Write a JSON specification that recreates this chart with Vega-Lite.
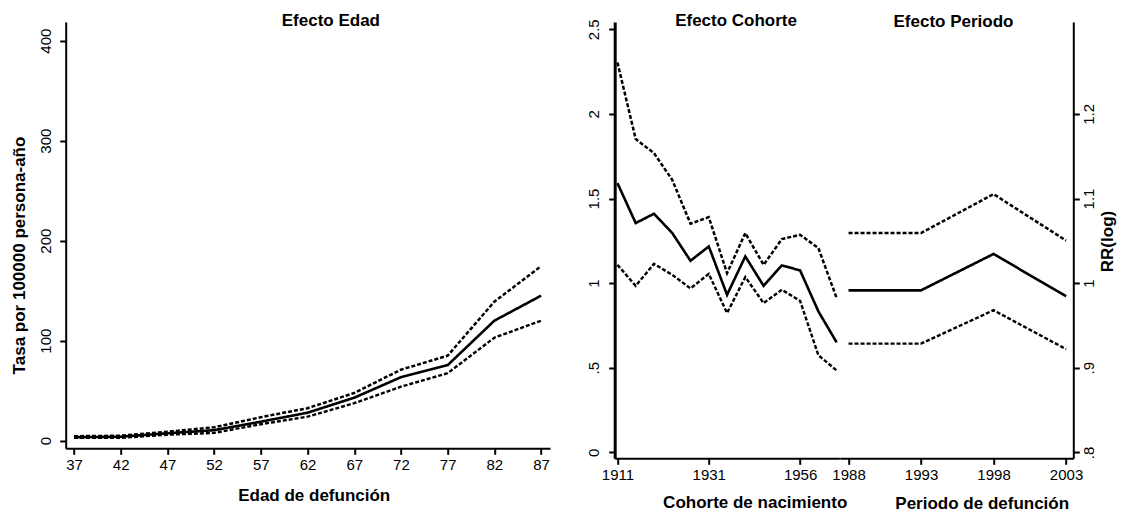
{
  "$schema": "https://vega.github.io/schema/vega-lite/v6.json",
  "background": "white",
  "autosize": {"type": "none"},
  "padding": {"left": 65.7, "top": 22, "right": 1056.3, "bottom": 492},
  "config": {
    "font": "Liberation Sans",
    "view": {"stroke": null},
    "axis": {
      "grid": false,
      "domainColor": "black",
      "domainWidth": 2,
      "tickColor": "black",
      "tickWidth": 2,
      "tickSize": 6,
      "labelColor": "black",
      "labelFont": "Liberation Sans",
      "labelFontSize": 15,
      "titleFont": "Liberation Sans",
      "titleFontSize": 17,
      "titleFontWeight": "bold",
      "titleColor": "black"
    },
    "title": {"fontSize": 17, "fontWeight": "bold", "color": "black", "font": "Liberation Sans"}
  },
  "datasets": {
    "edad": [
      {"edad": 37, "serie": "Estimación", "valor": 3.5},
      {"edad": 42, "serie": "Estimación", "valor": 4},
      {"edad": 47, "serie": "Estimación", "valor": 7.4},
      {"edad": 52, "serie": "Estimación", "valor": 10.5},
      {"edad": 57, "serie": "Estimación", "valor": 19},
      {"edad": 62, "serie": "Estimación", "valor": 28},
      {"edad": 67, "serie": "Estimación", "valor": 43},
      {"edad": 72, "serie": "Estimación", "valor": 63.5},
      {"edad": 77, "serie": "Estimación", "valor": 75.5},
      {"edad": 82, "serie": "Estimación", "valor": 120},
      {"edad": 87, "serie": "Estimación", "valor": 145},
      {"edad": 37, "serie": "Superior", "valor": 4.5},
      {"edad": 42, "serie": "Superior", "valor": 5},
      {"edad": 47, "serie": "Superior", "valor": 9},
      {"edad": 52, "serie": "Superior", "valor": 13.4},
      {"edad": 57, "serie": "Superior", "valor": 23.5},
      {"edad": 62, "serie": "Superior", "valor": 32.5},
      {"edad": 67, "serie": "Superior", "valor": 47.7},
      {"edad": 72, "serie": "Superior", "valor": 71},
      {"edad": 77, "serie": "Superior", "valor": 85},
      {"edad": 82, "serie": "Superior", "valor": 139},
      {"edad": 87, "serie": "Superior", "valor": 174.5},
      {"edad": 37, "serie": "Inferior", "valor": 2.8},
      {"edad": 42, "serie": "Inferior", "valor": 2.8},
      {"edad": 47, "serie": "Inferior", "valor": 6},
      {"edad": 52, "serie": "Inferior", "valor": 7.8},
      {"edad": 57, "serie": "Inferior", "valor": 16.5},
      {"edad": 62, "serie": "Inferior", "valor": 24},
      {"edad": 67, "serie": "Inferior", "valor": 37.5},
      {"edad": 72, "serie": "Inferior", "valor": 54},
      {"edad": 77, "serie": "Inferior", "valor": 67.5},
      {"edad": 82, "serie": "Inferior", "valor": 103},
      {"edad": 87, "serie": "Inferior", "valor": 120}
    ],
    "cohorte": [
      {"cohorte": 1911, "serie": "Estimación", "valor": 1.591},
      {"cohorte": 1915, "serie": "Estimación", "valor": 1.355},
      {"cohorte": 1919, "serie": "Estimación", "valor": 1.41},
      {"cohorte": 1923, "serie": "Estimación", "valor": 1.296},
      {"cohorte": 1927, "serie": "Estimación", "valor": 1.132},
      {"cohorte": 1931, "serie": "Estimación", "valor": 1.217},
      {"cohorte": 1936, "serie": "Estimación", "valor": 0.931},
      {"cohorte": 1941, "serie": "Estimación", "valor": 1.158},
      {"cohorte": 1946, "serie": "Estimación", "valor": 0.984},
      {"cohorte": 1951, "serie": "Estimación", "valor": 1.105},
      {"cohorte": 1956, "serie": "Estimación", "valor": 1.075},
      {"cohorte": 1961, "serie": "Estimación", "valor": 0.833},
      {"cohorte": 1966, "serie": "Estimación", "valor": 0.65},
      {"cohorte": 1911, "serie": "Superior", "valor": 2.304},
      {"cohorte": 1915, "serie": "Superior", "valor": 1.851},
      {"cohorte": 1919, "serie": "Superior", "valor": 1.768},
      {"cohorte": 1923, "serie": "Superior", "valor": 1.61},
      {"cohorte": 1927, "serie": "Superior", "valor": 1.351},
      {"cohorte": 1931, "serie": "Superior", "valor": 1.39},
      {"cohorte": 1936, "serie": "Superior", "valor": 1.059},
      {"cohorte": 1941, "serie": "Superior", "valor": 1.296},
      {"cohorte": 1946, "serie": "Superior", "valor": 1.108},
      {"cohorte": 1951, "serie": "Superior", "valor": 1.26},
      {"cohorte": 1956, "serie": "Superior", "valor": 1.286},
      {"cohorte": 1961, "serie": "Superior", "valor": 1.207},
      {"cohorte": 1966, "serie": "Superior", "valor": 0.912},
      {"cohorte": 1911, "serie": "Inferior", "valor": 1.108},
      {"cohorte": 1915, "serie": "Inferior", "valor": 0.984},
      {"cohorte": 1919, "serie": "Inferior", "valor": 1.114},
      {"cohorte": 1923, "serie": "Inferior", "valor": 1.049},
      {"cohorte": 1927, "serie": "Inferior", "valor": 0.969},
      {"cohorte": 1931, "serie": "Inferior", "valor": 1.055},
      {"cohorte": 1936, "serie": "Inferior", "valor": 0.823},
      {"cohorte": 1941, "serie": "Inferior", "valor": 1.036},
      {"cohorte": 1946, "serie": "Inferior", "valor": 0.882},
      {"cohorte": 1951, "serie": "Inferior", "valor": 0.961},
      {"cohorte": 1956, "serie": "Inferior", "valor": 0.895},
      {"cohorte": 1961, "serie": "Inferior", "valor": 0.574},
      {"cohorte": 1966, "serie": "Inferior", "valor": 0.484}
    ],
    "periodo": [
      {"periodo": 1988, "serie": "Estimación", "valor": 0.9915},
      {"periodo": 1993, "serie": "Estimación", "valor": 0.9915},
      {"periodo": 1998, "serie": "Estimación", "valor": 1.0345},
      {"periodo": 2003, "serie": "Estimación", "valor": 0.9845},
      {"periodo": 1988, "serie": "Superior", "valor": 1.0592},
      {"periodo": 1993, "serie": "Superior", "valor": 1.0592},
      {"periodo": 1998, "serie": "Superior", "valor": 1.1052},
      {"periodo": 2003, "serie": "Superior", "valor": 1.0503},
      {"periodo": 1988, "serie": "Inferior", "valor": 0.9285},
      {"periodo": 1993, "serie": "Inferior", "valor": 0.9285},
      {"periodo": 1998, "serie": "Inferior", "valor": 0.968},
      {"periodo": 2003, "serie": "Inferior", "valor": 0.922}
    ]
  },
  "bounds": "flush",
  "spacing": 64,
  "hconcat": [
    {
      "width": 484.3,
      "height": 426.3,
      "title": {"text": "Efecto Edad", "frame": "group", "offset": 5.5, "baseline": "alphabetic", "dx": 23, "dy": 26},
      "data": {"name": "edad"},
      "mark": {"type": "line", "color": "black"},
      "encoding": {
        "x": {
          "field": "edad", "type": "quantitative",
          "scale": {"domain": [36.11, 87.96], "nice": false, "zero": false},
          "axis": {"values": [37, 42, 47, 52, 57, 62, 67, 72, 77, 82, 87], "title": "Edad de defunción", "labelFlush": false, "titleX": 248, "titleY": 52, "titleBaseline": "alphabetic", "labelPadding": 3}
        },
        "y": {
          "field": "valor", "type": "quantitative",
          "scale": {"domain": [-7.6, 418.7], "nice": false, "zero": false},
          "axis": {"values": [0, 100, 200, 300, 400], "title": "Tasa por 100000 persona-año", "labelAngle": -90, "labelAlign": "center", "labelBaseline": "bottom", "labelPadding": 6, "titleAngle": -90, "titleAlign": "center", "titleBaseline": "alphabetic", "titleX": -41, "titleY": 233}
        },
        "strokeDash": {"field": "serie", "type": "nominal", "scale": {"domain": ["Estimación", "Superior", "Inferior"], "range": [[1, 0], [4, 2], [4, 2]]}, "legend": null},
        "strokeWidth": {"field": "serie", "type": "nominal", "scale": {"domain": ["Estimación", "Superior", "Inferior"], "range": [2.6, 2.4, 2.4]}, "legend": null}
      }
    },
    {
      "bounds": "flush",
      "spacing": 0,
      "hconcat": [
        {
          "width": 224.7,
          "height": 436.3,
          "title": {"text": "Efecto Cohorte", "frame": "group", "offset": -4, "baseline": "alphabetic", "dx": 9, "dy": 20},
          "data": {"name": "cohorte"},
          "mark": {"type": "line", "color": "black"},
          "encoding": {
            "x": {
              "field": "cohorte", "type": "ordinal",
              "scale": {"padding": 0.15},
              "axis": {"values": [1911, 1931, 1956], "labelAngle": 0, "title": "Cohorte de nacimiento", "titleX": 140, "titleY": 49, "titleBaseline": "alphabetic", "labelPadding": 3}
            },
            "y": {
              "field": "valor", "type": "quantitative",
              "scale": {"domain": [-0.035, 2.543], "nice": false, "zero": false},
              "axis": {"values": [0, 0.5, 1, 1.5, 2, 2.5], "format": ".1~f", "labelExpr": "replace(datum.label, '0.', '.')", "labelAngle": -90, "labelAlign": "center", "labelBaseline": "bottom", "labelPadding": 7, "title": null, "domainWidth": 3}
            },
            "strokeDash": {"field": "serie", "type": "nominal", "scale": {"domain": ["Estimación", "Superior", "Inferior"], "range": [[1, 0], [5, 3], [6, 2, 2, 2]]}, "legend": null},
            "strokeWidth": {"field": "serie", "type": "nominal", "scale": {"domain": ["Estimación", "Superior", "Inferior"], "range": [2.6, 1.8, 2]}, "legend": null}
          }
        },
        {
          "width": 233.6,
          "height": 436.3,
          "title": {"text": "Efecto Periodo", "frame": "group", "offset": -4, "baseline": "alphabetic", "dx": -3, "dy": 18},
          "data": {"name": "periodo"},
          "mark": {"type": "line", "color": "black"},
          "encoding": {
            "x": {
              "field": "periodo", "type": "quantitative",
              "scale": {"domain": [1987.39, 2003.5], "nice": false, "zero": false},
              "axis": {"values": [1988, 1993, 1998, 2003], "format": "d", "labelFlush": false, "title": "Periodo de defunción", "titleX": 142, "titleY": 50, "titleBaseline": "alphabetic", "labelPadding": 3}
            },
            "y": {
              "field": "valor", "type": "quantitative",
              "scale": {"domain": [0.793, 1.3086], "nice": false, "zero": false},
              "axis": {"orient": "right", "values": [0.8, 0.9, 1, 1.1, 1.2], "format": ".1~f", "labelExpr": "replace(datum.label, '0.', '.')", "labelAngle": -90, "labelAlign": "center", "labelBaseline": "top", "labelPadding": 2, "title": "RR(log)", "titleAngle": -90, "titleAlign": "center", "titleBaseline": "alphabetic", "titleX": 39, "titleY": 219}
            },
            "strokeDash": {"field": "serie", "type": "nominal", "scale": {"domain": ["Estimación", "Superior", "Inferior"], "range": [[1, 0], [5, 3], [6, 2, 2, 2]]}, "legend": null},
            "strokeWidth": {"field": "serie", "type": "nominal", "scale": {"domain": ["Estimación", "Superior", "Inferior"], "range": [2.6, 1.8, 2]}, "legend": null}
          }
        }
      ]
    }
  ]
}
